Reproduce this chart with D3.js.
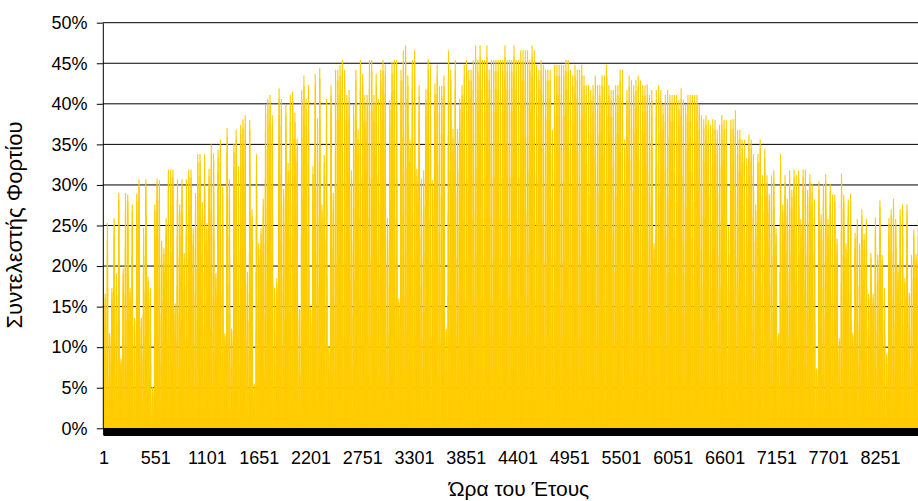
<!DOCTYPE html>
<html>
<head>
<meta charset="utf-8">
<script src="https://cdn.jsdelivr.net/npm/d3@7"></script>
<style>
  body { margin: 0; background: #fff; }
  text { font-family: Arial, "Liberation Sans", sans-serif; fill: #000; }
</style>
</head>
<body>
<svg id="chart" width="918" height="501"></svg>
<script>
// peak load factor of each day (%)
let dailyPeak = [
  16.6, 25.3, 11.7, 17.3, 25.9, 19.1, 29.0, 8.6, 19.7, 29.0, 28.8, 17.3, 27.6, 13.6, 28.9, 30.7, 13.6, 24.7, 30.7, 18.7,
  17.3, 5.1, 27.6, 30.8, 30.6, 23.1, 22.2, 25.9, 31.9, 31.9, 31.9, 15.4, 30.7, 27.6, 30.7, 21.6, 30.7, 31.9, 31.9, 24.7,
  29.0, 33.8, 33.8, 27.9, 33.8,
  25.3, 32.0, 35.0, 33.9, 19.1, 34.3, 35.6, 29.8, 11.7, 37.0, 30.7, 12.3, 35.1, 36.8, 32.3, 37.4, 38.1, 38.6, 19.3, 38.0,
  27.0, 5.5, 33.8, 22.8, 24.7, 28.3, 39.9, 40.6, 41.1, 38.6, 17.3, 18.5, 41.9, 40.6, 29.5, 39.9, 32.7, 41.1, 41.5, 38.9,
  35.7, 14.7, 41.7, 43.5, 40.6, 42.3,
  15.0, 32.3, 43.7, 38.2, 44.4, 27.6, 33.7, 40.6, 10.1, 42.3, 29.0, 44.2, 44.2, 44.8, 45.4, 44.2, 41.1, 41.7, 31.8, 39.9,
  44.2, 36.8, 45.4, 43.7, 41.1, 41.1, 45.4, 45.4, 41.1, 43.7, 40.6, 44.2, 45.4, 44.8, 25.9, 40.5, 45.1, 45.4, 45.4, 16.0,
  44.2, 46.6, 47.2, 43.5, 35.6, 45.4,
  46.6, 32.0, 42.3, 30.8, 31.8, 41.8, 45.5, 44.8, 30.6, 42.5, 44.8, 42.2, 42.2, 43.5, 12.3, 46.6, 44.2, 36.9, 45.4, 36.9,
  40.6, 42.3, 44.8, 45.4, 44.2, 44.2, 45.4, 47.2, 45.4, 47.2, 45.4, 45.4, 47.2, 44.2, 45.4, 45.4, 45.4, 45.4, 45.4, 45.4,
  47.2, 45.4, 45.4, 45.4, 47.2, 45.4,
  45.4, 46.6, 46.6, 46.6, 46.6, 45.4, 47.2, 46.6, 44.8, 44.2, 45.4, 44.8, 44.2, 44.2, 44.2, 36.8, 44.8, 44.8, 44.8, 44.8,
  44.8, 45.4, 45.4, 44.2, 43.5, 44.8, 44.2, 44.2, 44.8, 43.5, 42.3, 42.3, 41.7, 42.3, 43.5, 42.3, 42.3, 43.5, 43.5, 44.8,
  42.3, 41.7, 41.7, 42.3, 42.3, 44.2, 44.2,
  35.6, 41.7, 43.5, 42.9, 42.3, 42.9, 43.5, 42.9, 42.3, 42.3, 42.4, 41.1, 41.7, 22.8, 41.7, 42.3, 41.7, 39.9, 41.1, 41.7,
  41.1, 41.1, 41.1, 41.1, 40.5, 41.9, 40.5, 39.9, 41.1, 41.1, 41.1, 41.1, 41.1, 39.9, 38.6, 38.1, 38.6, 38.0, 37.4, 38.1,
  38.0, 36.8, 37.4, 38.6, 38.0, 38.0, 24.9,
  38.0, 38.1, 39.2, 36.8, 36.8, 35.6, 35.6, 33.3, 36.2, 35.6, 33.8, 27.6, 33.8, 35.6, 31.2, 34.4, 31.2, 28.9, 31.2, 31.8,
  24.7, 11.7, 33.8, 27.6, 31.2, 28.3, 31.8, 29.4, 31.9, 31.2, 31.8, 25.8, 31.9, 31.9, 29.4, 31.3, 30.1, 28.2, 7.4, 30.4,
  26.4, 30.1, 31.3, 25.8, 30.1, 28.8, 28.8,
  23.4, 11.1, 31.4, 28.8, 22.8, 28.2, 28.9, 11.8, 24.1, 25.8, 22.8, 27.0, 24.0, 25.8, 16.6, 21.6, 16.6, 26.0, 21.4, 28.1,
  21.4, 17.3, 9.2, 25.9, 27.0, 28.3, 25.8, 19.9, 27.0, 27.6, 18.5, 27.6, 16.7, 21.4, 24.5, 21.5, 25.8,
  22.0, 26.5, 18.0, 24.0
];

// share of the day's peak reached in each hour of the day (00-23)
let hourShape = [0, 0, 0, 0, 0, 0, 0.03, 0.15, 0.35, 0.57, 0.77, 0.92, 1.0, 0.97, 0.86, 0.68, 0.46, 0.25, 0.08, 0.01, 0, 0, 0, 0];

let yTicks = [0, 0.05, 0.1, 0.15, 0.2, 0.25, 0.3, 0.35, 0.4, 0.45, 0.5];
let xTickHours = [1, 551, 1101, 1651, 2201, 2751, 3301, 3851, 4401, 4951, 5501, 6051, 6601, 7151, 7701, 8251];

let hours = d3.range(1, 8761);
let hourly = [];
for (var d = 0; d < dailyPeak.length; d++) {
  for (var h = 0; h < 24; h++) {
    hourly.push({ hour: d * 24 + h + 1, value: (dailyPeak[d] / 100) * hourShape[h] });
  }
}

let svg = d3.select("#chart");

let x = d3.scaleBand().domain(hours).range([103.45, 927.9]).padding(0);
let y = d3.scaleLinear().domain([0, 0.5]).range([428.3, 22.7]);

// gridlines
svg.append("g")
  .selectAll("line")
  .data(yTicks)
  .enter()
  .append("line")
  .attr("x1", 102.8)
  .attr("x2", 928)
  .attr("y1", (d) => y(d))
  .attr("y2", (d) => y(d))
  .attr("stroke", "#000")
  .attr("stroke-width", 1);

// hourly bars
svg.append("g")
  .selectAll("rect")
  .data(hourly.filter((d) => d.value > 0))
  .enter()
  .append("rect")
  .attr("x", (d) => x(d.hour))
  .attr("y", (d) => y(d.value))
  .attr("width", Math.max(1.15, x.bandwidth()))
  .attr("height", (d) => y(0) - y(d.value))
  .attr("fill", "#FFCC00");

// category tick marks (one per hour, they merge into a band)
svg.append("g")
  .attr("transform", "translate(0," + y(0) + ")")
  .call(d3.axisBottom(x).tickValues(hours).tickSize(7).tickSizeOuter(0).tickFormat(""))
  .call((g) => g.selectAll("line").attr("stroke", "#000"))
  .call((g) => g.select(".domain").attr("stroke", "#000"));

// category labels
svg.append("g")
  .attr("transform", "translate(0," + y(0) + ")")
  .call(d3.axisBottom(x).tickValues(xTickHours).tickSize(0).tickPadding(22.7))
  .call((g) => g.select(".domain").remove())
  .selectAll("text")
  .style("font-size", "18px")
  .style("font-family", "Arial, 'Liberation Sans', sans-serif")
  .attr("fill", "#000");

// value axis
svg.append("g")
  .attr("transform", "translate(102.8,0)")
  .call(d3.axisLeft(y).tickValues(yTicks).tickSize(6).tickSizeOuter(0).tickPadding(9.4).tickFormat(d3.format(".0%")))
  .call((g) => g.select(".domain").attr("stroke", "#000"))
  .call((g) => g.selectAll("line").attr("stroke", "#000"))
  .selectAll("text")
  .style("font-size", "18px")
  .style("font-family", "Arial, 'Liberation Sans', sans-serif")
  .attr("fill", "#000");

// axis titles
svg.append("text")
  .attr("transform", "translate(21.5,225) rotate(-90)")
  .attr("text-anchor", "middle")
  .style("font-size", "22px")
  .text("Συντελεστής Φορτίου");

svg.append("text")
  .attr("x", 519)
  .attr("y", 496)
  .attr("text-anchor", "middle")
  .style("font-size", "21px")
  .text("Ώρα του Έτους");
</script>
</body>
</html>
